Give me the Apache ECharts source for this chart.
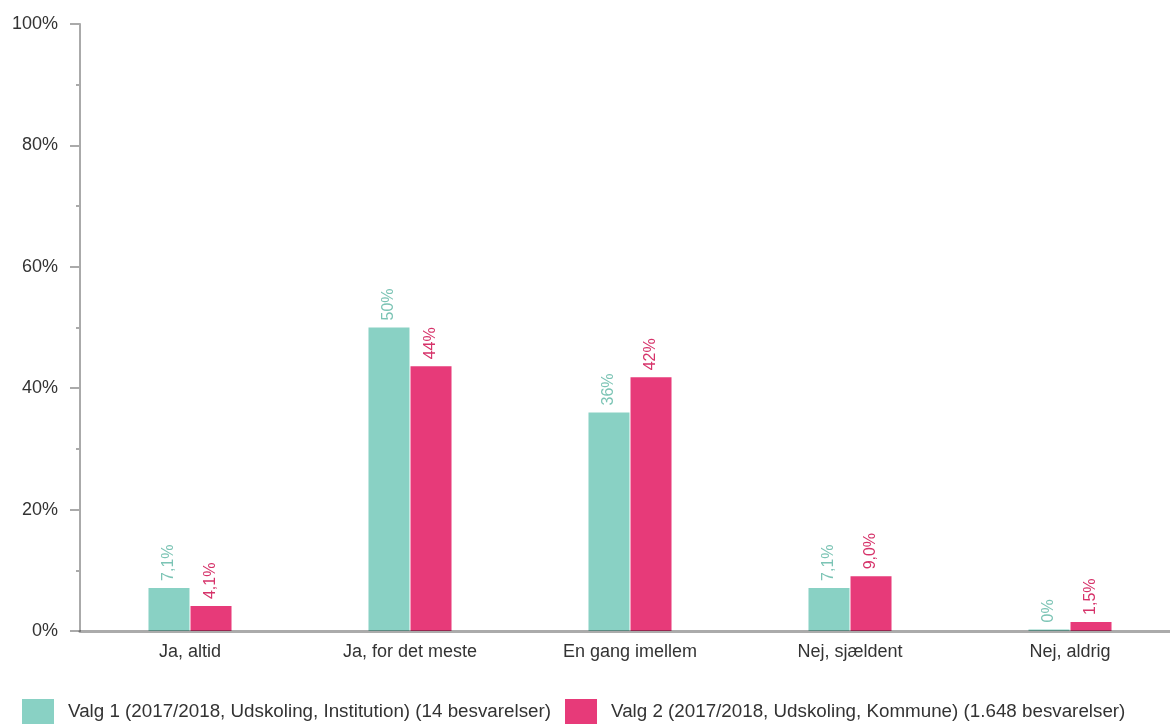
<!DOCTYPE html>
<html>
<head>
<meta charset="utf-8">
<script src="https://cdn.jsdelivr.net/npm/echarts@6/dist/echarts.min.js"></script>
<style>
  html, body { margin: 0; padding: 0; background: #fff; }
  #chart { width: 1170px; height: 724px; }
</style>
</head>
<body>
<div id="chart"></div>
<script>
// data
const categories = ['Ja, altid', 'Ja, for det meste', 'En gang imellem', 'Nej, sjældent', 'Nej, aldrig'];
const seriesNames = [
  'Valg 1 (2017/2018, Udskoling, Institution) (14 besvarelser)',
  'Valg 2 (2017/2018, Udskoling, Kommune) (1.648 besvarelser)'
];
const valg1 = [7.1, 50, 36, 7.1, 0];
const valg2 = [4.1, 43.6, 41.8, 9.0, 1.5];
const valg1Labels = ['7,1%', '50%', '36%', '7,1%', '0%'];
const valg2Labels = ['4,1%', '44%', '42%', '9,0%', '1,5%'];
const yTicks = [0, 20, 40, 60, 80, 100];

const chart = echarts.init(document.getElementById('chart'));

function barLabel(labels, color) {
  return {
    show: true,
    position: 'top',
    rotate: 90,
    align: 'left',
    verticalAlign: 'middle',
    distance: 7,
    color: color,
    fontSize: 16,
    fontFamily: 'Liberation Sans, Arial, sans-serif',
    formatter: function (p) { return labels[p.dataIndex]; }
  };
}

const option = {
  animation: false,
  textStyle: { fontFamily: 'Liberation Sans, Arial, sans-serif' },
  // plot area is wider than the canvas on the right, the baseline runs off the edge
  grid: {
    left: 80, width: 1100, top: 24, bottom: 93,
    containLabel: false, outerBoundsMode: 'none'
  },
  legend: {
    left: 22,
    top: 699,
    padding: 0,
    icon: 'rect',
    itemWidth: 32,
    itemHeight: 25,
    itemGap: 14,
    textStyle: { color: '#333', fontSize: 18.8, padding: [0, 0, 0, 9] },
    data: seriesNames
  },
  xAxis: {
    type: 'category',
    data: categories,
    z: 10,
    axisTick: { show: false },
    axisLine: { lineStyle: { color: 'rgba(0,0,0,0.33)', width: 3 } },
    axisLabel: { color: '#333', fontSize: 18, margin: 12 }
  },
  yAxis: {
    type: 'value',
    min: 0,
    max: 100,
    interval: 20,
    axisLine: { show: true, lineStyle: { color: '#aaa', width: 2 } },
    axisTick: { show: true, length: 10, lineStyle: { color: '#aaa', width: 2 } },
    minorTick: { show: true, splitNumber: 2, length: 4, lineStyle: { color: '#aaa', width: 2 } },
    splitLine: { show: false },
    axisLabel: {
      color: '#333',
      fontSize: 18,
      margin: 22,
      formatter: function (v) { return yTicks.indexOf(v) >= 0 ? v + '%' : ''; }
    }
  },
  series: [
    {
      name: seriesNames[0],
      type: 'bar',
      data: valg1,
      barWidth: 41,
      barGap: '2.5%',
      barMinHeight: 1.5,
      itemStyle: { color: '#89d1c4' },
      label: barLabel(valg1Labels, '#7cc4b5')
    },
    {
      name: seriesNames[1],
      type: 'bar',
      data: valg2,
      barWidth: 41,
      barMinHeight: 1.5,
      itemStyle: { color: '#e73a79' },
      label: barLabel(valg2Labels, '#d6336a')
    }
  ]
};

chart.setOption(option);
</script>
</body>
</html>
